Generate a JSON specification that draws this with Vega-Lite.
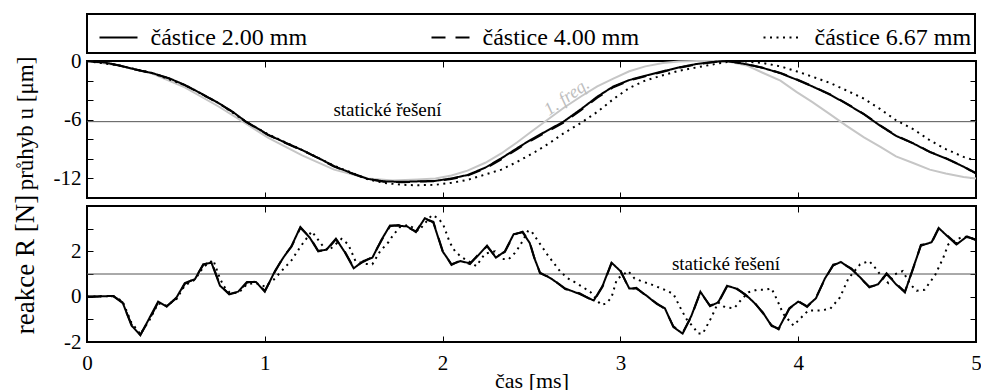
{
  "$schema": "https://vega.github.io/schema/vega-lite/v6.json",
  "padding": {"left": 10, "top": 12, "right": 4, "bottom": 0},
  "background": "white",
  "config": {
    "font": "Liberation Serif",
    "view": {"stroke": "black", "strokeWidth": 2},
    "axis": {
      "domain": false, "grid": false, "tickColor": "black", "tickSize": -6, "tickWidth": 1,
      "labelFont": "Liberation Serif", "labelFontSize": 21, "labelColor": "black", "labelFlush": false,
      "labelPadding": 12, "labelOverlap": false,
      "titleFont": "Liberation Serif", "titleFontWeight": "normal", "titleColor": "black", "titleFontSize": 22
    },
    "legend": {"strokeWidth": 2}
  },
  "datasets": {
    "top": [
      {"t":0,"v":0,"d":2},{"t":0.1,"v":-0.15,"d":2},{"t":0.18,"v":-0.45,"d":2},{"t":0.27,"v":-0.85,"d":2},{"t":0.37,"v":-1.25,"d":2},{"t":0.46,"v":-1.75,"d":2},{"t":0.55,"v":-2.45,"d":2},{"t":0.64,"v":-3.3,"d":2},{"t":0.74,"v":-4.3,"d":2},{"t":0.82,"v":-5.2,"d":2},{"t":0.89,"v":-6.15,"d":2},{"t":0.96,"v":-6.9,"d":2},{"t":1.02,"v":-7.55,"d":2},{"t":1.11,"v":-8.3,"d":2},{"t":1.21,"v":-9.1,"d":2},{"t":1.3,"v":-9.9,"d":2},{"t":1.39,"v":-10.75,"d":2},{"t":1.48,"v":-11.4,"d":2},{"t":1.58,"v":-12.05,"d":2},{"t":1.67,"v":-12.3,"d":2},{"t":1.77,"v":-12.35,"d":2},{"t":1.86,"v":-12.3,"d":2},{"t":1.96,"v":-12.25,"d":2},{"t":2.05,"v":-12.0,"d":2},{"t":2.14,"v":-11.65,"d":2},{"t":2.24,"v":-10.9,"d":2},{"t":2.33,"v":-9.95,"d":2},{"t":2.42,"v":-8.9,"d":2},{"t":2.5,"v":-8.0,"d":2},{"t":2.59,"v":-7.1,"d":2},{"t":2.68,"v":-6.2,"d":2},{"t":2.78,"v":-4.9,"d":2},{"t":2.87,"v":-3.65,"d":2},{"t":2.96,"v":-2.6,"d":2},{"t":3.05,"v":-1.95,"d":2},{"t":3.14,"v":-1.5,"d":2},{"t":3.24,"v":-1.05,"d":2},{"t":3.33,"v":-0.65,"d":2},{"t":3.43,"v":-0.3,"d":2},{"t":3.52,"v":-0.1,"d":2},{"t":3.6,"v":0,"d":2},{"t":3.7,"v":-0.3,"d":2},{"t":3.8,"v":-0.7,"d":2},{"t":3.9,"v":-1.25,"d":2},{"t":3.99,"v":-1.9,"d":2},{"t":4.08,"v":-2.6,"d":2},{"t":4.18,"v":-3.45,"d":2},{"t":4.27,"v":-4.35,"d":2},{"t":4.37,"v":-5.45,"d":2},{"t":4.46,"v":-6.6,"d":2},{"t":4.55,"v":-7.65,"d":2},{"t":4.65,"v":-8.45,"d":2},{"t":4.74,"v":-9.3,"d":2},{"t":4.83,"v":-9.95,"d":2},{"t":4.93,"v":-10.8,"d":2},{"t":5,"v":-11.5,"d":2},
      {"t":0,"v":0,"d":4},{"t":0.1,"v":-0.16,"d":4},{"t":0.18,"v":-0.47,"d":4},{"t":0.27,"v":-0.86,"d":4},{"t":0.37,"v":-1.27,"d":4},{"t":0.46,"v":-1.78,"d":4},{"t":0.55,"v":-2.47,"d":4},{"t":0.64,"v":-3.32,"d":4},{"t":0.74,"v":-4.33,"d":4},{"t":0.82,"v":-5.22,"d":4},{"t":0.89,"v":-6.17,"d":4},{"t":0.96,"v":-6.93,"d":4},{"t":1.02,"v":-7.57,"d":4},{"t":1.11,"v":-8.33,"d":4},{"t":1.21,"v":-9.13,"d":4},{"t":1.3,"v":-9.93,"d":4},{"t":1.39,"v":-10.78,"d":4},{"t":1.48,"v":-11.43,"d":4},{"t":1.58,"v":-12.08,"d":4},{"t":1.67,"v":-12.33,"d":4},{"t":1.77,"v":-12.38,"d":4},{"t":1.86,"v":-12.33,"d":4},{"t":1.96,"v":-12.28,"d":4},{"t":2.05,"v":-12.05,"d":4},{"t":2.14,"v":-11.72,"d":4},{"t":2.24,"v":-10.98,"d":4},{"t":2.33,"v":-10.05,"d":4},{"t":2.42,"v":-9.0,"d":4},{"t":2.5,"v":-8.1,"d":4},{"t":2.59,"v":-7.2,"d":4},{"t":2.68,"v":-6.3,"d":4},{"t":2.78,"v":-5.0,"d":4},{"t":2.87,"v":-3.75,"d":4},{"t":2.96,"v":-2.68,"d":4},{"t":3.05,"v":-2.0,"d":4},{"t":3.14,"v":-1.55,"d":4},{"t":3.24,"v":-1.1,"d":4},{"t":3.33,"v":-0.7,"d":4},{"t":3.43,"v":-0.33,"d":4},{"t":3.52,"v":-0.12,"d":4},{"t":3.6,"v":-0.01,"d":4},{"t":3.7,"v":-0.28,"d":4},{"t":3.8,"v":-0.68,"d":4},{"t":3.9,"v":-1.22,"d":4},{"t":3.99,"v":-1.87,"d":4},{"t":4.08,"v":-2.57,"d":4},{"t":4.18,"v":-3.42,"d":4},{"t":4.27,"v":-4.32,"d":4},{"t":4.37,"v":-5.42,"d":4},{"t":4.46,"v":-6.57,"d":4},{"t":4.55,"v":-7.62,"d":4},{"t":4.65,"v":-8.43,"d":4},{"t":4.74,"v":-9.28,"d":4},{"t":4.83,"v":-9.93,"d":4},{"t":4.93,"v":-10.78,"d":4},{"t":5,"v":-11.45,"d":4},
      {"t":0,"v":0,"d":6.67},{"t":0.18,"v":-0.45,"d":6.67},{"t":0.37,"v":-1.25,"d":6.67},{"t":0.55,"v":-2.45,"d":6.67},{"t":0.74,"v":-4.3,"d":6.67},{"t":0.89,"v":-6.15,"d":6.67},{"t":1.02,"v":-7.5,"d":6.67},{"t":1.21,"v":-9.1,"d":6.67},{"t":1.39,"v":-10.7,"d":6.67},{"t":1.58,"v":-12.1,"d":6.67},{"t":1.67,"v":-12.45,"d":6.67},{"t":1.77,"v":-12.65,"d":6.67},{"t":1.86,"v":-12.7,"d":6.67},{"t":1.96,"v":-12.65,"d":6.67},{"t":2.05,"v":-12.45,"d":6.67},{"t":2.14,"v":-12.15,"d":6.67},{"t":2.24,"v":-11.6,"d":6.67},{"t":2.33,"v":-11.1,"d":6.67},{"t":2.42,"v":-10.3,"d":6.67},{"t":2.52,"v":-9.3,"d":6.67},{"t":2.6,"v":-8.4,"d":6.67},{"t":2.68,"v":-7.4,"d":6.67},{"t":2.78,"v":-6.3,"d":6.67},{"t":2.87,"v":-5.2,"d":6.67},{"t":2.96,"v":-3.9,"d":6.67},{"t":3.05,"v":-2.75,"d":6.67},{"t":3.14,"v":-2.0,"d":6.67},{"t":3.24,"v":-1.45,"d":6.67},{"t":3.33,"v":-1.0,"d":6.67},{"t":3.43,"v":-0.65,"d":6.67},{"t":3.52,"v":-0.35,"d":6.67},{"t":3.6,"v":-0.1,"d":6.67},{"t":3.67,"v":0,"d":6.67},{"t":3.8,"v":-0.2,"d":6.67},{"t":3.9,"v":-0.55,"d":6.67},{"t":3.99,"v":-1.05,"d":6.67},{"t":4.08,"v":-1.6,"d":6.67},{"t":4.18,"v":-2.25,"d":6.67},{"t":4.27,"v":-3.0,"d":6.67},{"t":4.37,"v":-3.85,"d":6.67},{"t":4.46,"v":-4.9,"d":6.67},{"t":4.55,"v":-6.05,"d":6.67},{"t":4.65,"v":-7.0,"d":6.67},{"t":4.74,"v":-8.1,"d":6.67},{"t":4.83,"v":-9.0,"d":6.67},{"t":4.93,"v":-9.8,"d":6.67},{"t":5,"v":-10.2,"d":6.67}
    ],
    "freq": [
      {"t":0,"v":0},{"t":0.18,"v":-0.45},{"t":0.37,"v":-1.3},{"t":0.55,"v":-2.7},{"t":0.74,"v":-4.65},{"t":0.89,"v":-6.35},{"t":1.02,"v":-7.85},{"t":1.21,"v":-9.65},{"t":1.39,"v":-11.1},{"t":1.58,"v":-12.0},{"t":1.72,"v":-12.2},{"t":1.86,"v":-12.1},{"t":1.96,"v":-12.0},{"t":2.05,"v":-11.7},{"t":2.14,"v":-11.2},{"t":2.24,"v":-10.4},{"t":2.33,"v":-9.45},{"t":2.42,"v":-8.3},{"t":2.5,"v":-7.2},{"t":2.59,"v":-6.0},{"t":2.68,"v":-4.8},{"t":2.78,"v":-3.6},{"t":2.87,"v":-2.6},{"t":2.96,"v":-1.8},{"t":3.05,"v":-1.05},{"t":3.14,"v":-0.55},{"t":3.24,"v":-0.2},{"t":3.33,"v":-0.05},{"t":3.43,"v":0},{"t":3.52,"v":0},{"t":3.62,"v":-0.1},{"t":3.71,"v":-0.45},{"t":3.8,"v":-1.2},{"t":3.9,"v":-2.0},{"t":3.99,"v":-3.15},{"t":4.08,"v":-4.2},{"t":4.18,"v":-5.45},{"t":4.27,"v":-6.6},{"t":4.37,"v":-7.8},{"t":4.46,"v":-8.75},{"t":4.55,"v":-9.75},{"t":4.65,"v":-10.45},{"t":4.74,"v":-11.1},{"t":4.83,"v":-11.5},{"t":4.93,"v":-11.85},{"t":5,"v":-12.0}
    ],
    "bot": [
      {"t":0,"v":0,"d":2},{"t":0.148,"v":0.03,"d":2},{"t":0.2,"v":-0.25,"d":2},{"t":0.25,"v":-1.27,"d":2},{"t":0.3,"v":-1.7,"d":2},{"t":0.354,"v":-0.9,"d":2},{"t":0.4,"v":-0.22,"d":2},{"t":0.448,"v":-0.44,"d":2},{"t":0.504,"v":-0.03,"d":2},{"t":0.55,"v":0.6,"d":2},{"t":0.607,"v":0.77,"d":2},{"t":0.654,"v":1.43,"d":2},{"t":0.7,"v":1.5,"d":2},{"t":0.748,"v":0.48,"d":2},{"t":0.8,"v":0.12,"d":2},{"t":0.85,"v":0.22,"d":2},{"t":0.9,"v":0.65,"d":2},{"t":0.95,"v":0.65,"d":2},{"t":1.0,"v":0.22,"d":2},{"t":1.057,"v":1.13,"d":2},{"t":1.104,"v":1.72,"d":2},{"t":1.15,"v":2.23,"d":2},{"t":1.2,"v":3.07,"d":2},{"t":1.254,"v":2.59,"d":2},{"t":1.3,"v":2.0,"d":2},{"t":1.348,"v":2.08,"d":2},{"t":1.4,"v":2.56,"d":2},{"t":1.45,"v":1.96,"d":2},{"t":1.5,"v":1.25,"d":2},{"t":1.554,"v":1.57,"d":2},{"t":1.605,"v":1.72,"d":2},{"t":1.657,"v":2.52,"d":2},{"t":1.704,"v":3.14,"d":2},{"t":1.75,"v":3.13,"d":2},{"t":1.8,"v":3.1,"d":2},{"t":1.85,"v":2.85,"d":2},{"t":1.9,"v":3.46,"d":2},{"t":1.948,"v":3.27,"d":2},{"t":2.0,"v":2.0,"d":2},{"t":2.05,"v":1.43,"d":2},{"t":2.1,"v":1.57,"d":2},{"t":2.154,"v":1.47,"d":2},{"t":2.2,"v":1.82,"d":2},{"t":2.25,"v":2.25,"d":2},{"t":2.3,"v":1.72,"d":2},{"t":2.35,"v":2.0,"d":2},{"t":2.4,"v":2.76,"d":2},{"t":2.45,"v":2.84,"d":2},{"t":2.49,"v":2.37,"d":2},{"t":2.515,"v":1.72,"d":2},{"t":2.548,"v":1.06,"d":2},{"t":2.61,"v":0.8,"d":2},{"t":2.69,"v":0.36,"d":2},{"t":2.77,"v":0.12,"d":2},{"t":2.85,"v":-0.17,"d":2},{"t":2.9,"v":0.48,"d":2},{"t":2.95,"v":1.5,"d":2},{"t":3.0,"v":1.13,"d":2},{"t":3.05,"v":0.36,"d":2},{"t":3.09,"v":0.36,"d":2},{"t":3.148,"v":0.04,"d":2},{"t":3.204,"v":-0.32,"d":2},{"t":3.25,"v":-0.51,"d":2},{"t":3.298,"v":-1.34,"d":2},{"t":3.35,"v":-1.63,"d":2},{"t":3.4,"v":-0.83,"d":2},{"t":3.45,"v":0.22,"d":2},{"t":3.504,"v":-0.42,"d":2},{"t":3.55,"v":-0.25,"d":2},{"t":3.6,"v":0.48,"d":2},{"t":3.65,"v":0.36,"d":2},{"t":3.7,"v":0.12,"d":2},{"t":3.75,"v":-0.25,"d":2},{"t":3.8,"v":-0.68,"d":2},{"t":3.85,"v":-1.29,"d":2},{"t":3.89,"v":-1.41,"d":2},{"t":3.95,"v":-0.51,"d":2},{"t":4.0,"v":-0.22,"d":2},{"t":4.05,"v":-0.42,"d":2},{"t":4.1,"v":-0.07,"d":2},{"t":4.15,"v":0.8,"d":2},{"t":4.197,"v":1.38,"d":2},{"t":4.24,"v":1.53,"d":2},{"t":4.3,"v":1.21,"d":2},{"t":4.35,"v":0.84,"d":2},{"t":4.4,"v":0.41,"d":2},{"t":4.45,"v":0.55,"d":2},{"t":4.497,"v":1.03,"d":2},{"t":4.55,"v":0.55,"d":2},{"t":4.6,"v":0.19,"d":2},{"t":4.647,"v":1.28,"d":2},{"t":4.69,"v":2.25,"d":2},{"t":4.75,"v":2.4,"d":2},{"t":4.79,"v":3.03,"d":2},{"t":4.84,"v":2.66,"d":2},{"t":4.89,"v":2.3,"d":2},{"t":4.95,"v":2.66,"d":2},{"t":5.0,"v":2.49,"d":2},
      {"t":0,"v":0,"d":4},{"t":0.148,"v":0.02,"d":4},{"t":0.2,"v":-0.28,"d":4},{"t":0.25,"v":-1.22,"d":4},{"t":0.3,"v":-1.68,"d":4},{"t":0.354,"v":-0.95,"d":4},{"t":0.4,"v":-0.25,"d":4},{"t":0.448,"v":-0.42,"d":4},{"t":0.504,"v":-0.06,"d":4},{"t":0.55,"v":0.56,"d":4},{"t":0.607,"v":0.8,"d":4},{"t":0.654,"v":1.4,"d":4},{"t":0.7,"v":1.53,"d":4},{"t":0.748,"v":0.52,"d":4},{"t":0.8,"v":0.1,"d":4},{"t":0.85,"v":0.2,"d":4},{"t":0.9,"v":0.62,"d":4},{"t":0.95,"v":0.67,"d":4},{"t":1.0,"v":0.25,"d":4},{"t":1.057,"v":1.1,"d":4},{"t":1.104,"v":1.75,"d":4},{"t":1.15,"v":2.2,"d":4},{"t":1.2,"v":3.04,"d":4},{"t":1.254,"v":2.62,"d":4},{"t":1.3,"v":2.03,"d":4},{"t":1.348,"v":2.05,"d":4},{"t":1.4,"v":2.53,"d":4},{"t":1.45,"v":1.99,"d":4},{"t":1.5,"v":1.28,"d":4},{"t":1.554,"v":1.54,"d":4},{"t":1.605,"v":1.75,"d":4},{"t":1.657,"v":2.49,"d":4},{"t":1.704,"v":3.11,"d":4},{"t":1.75,"v":3.16,"d":4},{"t":1.8,"v":3.07,"d":4},{"t":1.85,"v":2.88,"d":4},{"t":1.9,"v":3.43,"d":4},{"t":1.948,"v":3.3,"d":4},{"t":2.0,"v":2.03,"d":4},{"t":2.05,"v":1.4,"d":4},{"t":2.1,"v":1.6,"d":4},{"t":2.154,"v":1.44,"d":4},{"t":2.2,"v":1.85,"d":4},{"t":2.25,"v":2.22,"d":4},{"t":2.3,"v":1.75,"d":4},{"t":2.35,"v":1.97,"d":4},{"t":2.4,"v":2.73,"d":4},{"t":2.45,"v":2.87,"d":4},{"t":2.49,"v":2.4,"d":4},{"t":2.515,"v":1.75,"d":4},{"t":2.548,"v":1.03,"d":4},{"t":2.61,"v":0.83,"d":4},{"t":2.69,"v":0.33,"d":4},{"t":2.77,"v":0.15,"d":4},{"t":2.85,"v":-0.2,"d":4},{"t":2.9,"v":0.45,"d":4},{"t":2.95,"v":1.47,"d":4},{"t":3.0,"v":1.16,"d":4},{"t":3.05,"v":0.33,"d":4},{"t":3.09,"v":0.39,"d":4},{"t":3.148,"v":0.01,"d":4},{"t":3.204,"v":-0.29,"d":4},{"t":3.25,"v":-0.54,"d":4},{"t":3.298,"v":-1.31,"d":4},{"t":3.35,"v":-1.6,"d":4},{"t":3.4,"v":-0.86,"d":4},{"t":3.45,"v":0.19,"d":4},{"t":3.504,"v":-0.39,"d":4},{"t":3.55,"v":-0.28,"d":4},{"t":3.6,"v":0.45,"d":4},{"t":3.65,"v":0.39,"d":4},{"t":3.7,"v":0.09,"d":4},{"t":3.75,"v":-0.22,"d":4},{"t":3.8,"v":-0.71,"d":4},{"t":3.85,"v":-1.26,"d":4},{"t":3.89,"v":-1.44,"d":4},{"t":3.95,"v":-0.54,"d":4},{"t":4.0,"v":-0.19,"d":4},{"t":4.05,"v":-0.45,"d":4},{"t":4.1,"v":-0.04,"d":4},{"t":4.15,"v":0.77,"d":4},{"t":4.197,"v":1.41,"d":4},{"t":4.24,"v":1.5,"d":4},{"t":4.3,"v":1.24,"d":4},{"t":4.35,"v":0.81,"d":4},{"t":4.4,"v":0.44,"d":4},{"t":4.45,"v":0.52,"d":4},{"t":4.497,"v":1.0,"d":4},{"t":4.55,"v":0.58,"d":4},{"t":4.6,"v":0.22,"d":4},{"t":4.647,"v":1.25,"d":4},{"t":4.69,"v":2.28,"d":4},{"t":4.75,"v":2.37,"d":4},{"t":4.79,"v":3.0,"d":4},{"t":4.84,"v":2.69,"d":4},{"t":4.89,"v":2.33,"d":4},{"t":4.95,"v":2.63,"d":4},{"t":5.0,"v":2.52,"d":4},
      {"t":0,"v":0,"d":6.67},{"t":0.148,"v":0.03,"d":6.67},{"t":0.2,"v":-0.2,"d":6.67},{"t":0.25,"v":-1.15,"d":6.67},{"t":0.3,"v":-1.65,"d":6.67},{"t":0.354,"v":-1.0,"d":6.67},{"t":0.4,"v":-0.3,"d":6.67},{"t":0.448,"v":-0.4,"d":6.67},{"t":0.504,"v":-0.1,"d":6.67},{"t":0.55,"v":0.5,"d":6.67},{"t":0.607,"v":0.75,"d":6.67},{"t":0.654,"v":1.3,"d":6.67},{"t":0.71,"v":1.62,"d":6.67},{"t":0.748,"v":0.8,"d":6.67},{"t":0.77,"v":0.45,"d":6.67},{"t":0.8,"v":0.2,"d":6.67},{"t":0.85,"v":0.15,"d":6.67},{"t":0.9,"v":0.55,"d":6.67},{"t":0.95,"v":0.6,"d":6.67},{"t":1.0,"v":0.45,"d":6.67},{"t":1.05,"v":0.75,"d":6.67},{"t":1.094,"v":1.13,"d":6.67},{"t":1.15,"v":1.6,"d":6.67},{"t":1.2,"v":2.2,"d":6.67},{"t":1.264,"v":2.88,"d":6.67},{"t":1.33,"v":2.2,"d":6.67},{"t":1.358,"v":2.03,"d":6.67},{"t":1.432,"v":2.55,"d":6.67},{"t":1.47,"v":2.3,"d":6.67},{"t":1.51,"v":1.57,"d":6.67},{"t":1.56,"v":1.45,"d":6.67},{"t":1.605,"v":1.43,"d":6.67},{"t":1.648,"v":2.0,"d":6.67},{"t":1.695,"v":2.4,"d":6.67},{"t":1.723,"v":2.73,"d":6.67},{"t":1.76,"v":3.07,"d":6.67},{"t":1.807,"v":3.17,"d":6.67},{"t":1.864,"v":2.9,"d":6.67},{"t":1.94,"v":3.6,"d":6.67},{"t":1.976,"v":3.46,"d":6.67},{"t":2.004,"v":3.17,"d":6.67},{"t":2.04,"v":2.4,"d":6.67},{"t":2.07,"v":2.0,"d":6.67},{"t":2.104,"v":1.76,"d":6.67},{"t":2.145,"v":1.57,"d":6.67},{"t":2.19,"v":1.35,"d":6.67},{"t":2.238,"v":1.9,"d":6.67},{"t":2.295,"v":2.0,"d":6.67},{"t":2.332,"v":1.67,"d":6.67},{"t":2.37,"v":1.64,"d":6.67},{"t":2.407,"v":1.93,"d":6.67},{"t":2.435,"v":2.25,"d":6.67},{"t":2.482,"v":2.92,"d":6.67},{"t":2.5,"v":2.88,"d":6.67},{"t":2.538,"v":2.44,"d":6.67},{"t":2.595,"v":1.79,"d":6.67},{"t":2.66,"v":1.13,"d":6.67},{"t":2.698,"v":0.84,"d":6.67},{"t":2.745,"v":0.63,"d":6.67},{"t":2.83,"v":0.22,"d":6.67},{"t":2.89,"v":-0.36,"d":6.67},{"t":2.92,"v":-0.31,"d":6.67},{"t":2.95,"v":-0.03,"d":6.67},{"t":2.98,"v":0.77,"d":6.67},{"t":3.044,"v":1.13,"d":6.67},{"t":3.08,"v":0.8,"d":6.67},{"t":3.13,"v":0.65,"d":6.67},{"t":3.17,"v":0.55,"d":6.67},{"t":3.25,"v":0.3,"d":6.67},{"t":3.298,"v":0.12,"d":6.67},{"t":3.345,"v":-0.61,"d":6.67},{"t":3.373,"v":-1.0,"d":6.67},{"t":3.41,"v":-1.34,"d":6.67},{"t":3.438,"v":-1.63,"d":6.67},{"t":3.463,"v":-1.63,"d":6.67},{"t":3.513,"v":-0.9,"d":6.67},{"t":3.55,"v":-0.25,"d":6.67},{"t":3.588,"v":-0.47,"d":6.67},{"t":3.64,"v":-0.51,"d":6.67},{"t":3.676,"v":-0.17,"d":6.67},{"t":3.72,"v":0.19,"d":6.67},{"t":3.766,"v":0.3,"d":6.67},{"t":3.81,"v":0.3,"d":6.67},{"t":3.85,"v":0.36,"d":6.67},{"t":3.879,"v":-0.1,"d":6.67},{"t":3.916,"v":-0.76,"d":6.67},{"t":3.973,"v":-1.27,"d":6.67},{"t":4.02,"v":-0.9,"d":6.67},{"t":4.057,"v":-0.61,"d":6.67},{"t":4.123,"v":-0.61,"d":6.67},{"t":4.18,"v":-0.54,"d":6.67},{"t":4.235,"v":-0.03,"d":6.67},{"t":4.282,"v":0.8,"d":6.67},{"t":4.348,"v":1.43,"d":6.67},{"t":4.4,"v":1.57,"d":6.67},{"t":4.432,"v":1.28,"d":6.67},{"t":4.46,"v":0.99,"d":6.67},{"t":4.507,"v":0.6,"d":6.67},{"t":4.545,"v":0.99,"d":6.67},{"t":4.588,"v":1.13,"d":6.67},{"t":4.63,"v":0.55,"d":6.67},{"t":4.666,"v":0.26,"d":6.67},{"t":4.71,"v":0.3,"d":6.67},{"t":4.77,"v":0.95,"d":6.67},{"t":4.816,"v":1.72,"d":6.67},{"t":4.844,"v":2.3,"d":6.67},{"t":4.882,"v":2.49,"d":6.67},{"t":4.93,"v":2.66,"d":6.67},{"t":4.994,"v":2.55,"d":6.67}
    ]
  },
  "resolve": {"legend": {"strokeDash": "independent"}},
  "spacing": -7,
  "vconcat": [
    {
      "width": 889, "height": 137,
      "resolve": {"axis": {"x": "independent", "y": "independent"}},
      "layer": [
        {
          "data": {"values": [{"v": -6.2}]},
          "mark": {"type": "rule", "color": "#555555", "strokeWidth": 1},
          "encoding": {"y": {"field": "v", "type": "quantitative", "axis": null, "scale": {"domain": [-14, 0], "nice": false}}}
        },
        {
          "data": {"name": "freq"},
          "mark": {"type": "line", "color": "#c6c6c6", "strokeWidth": 2},
          "encoding": {
            "x": {"field": "t", "type": "quantitative", "scale": {"domain": [0, 5], "nice": false},
                  "axis": {"orient": "top", "labels": false, "title": null, "values": [0, 1, 2, 3, 4, 5]}},
            "y": {"field": "v", "type": "quantitative", "scale": {"domain": [-14, 0], "nice": false},
                  "axis": {"orient": "right", "labels": false, "title": null, "values": [-12, -10, -8, -6, -4, -2, 0]}}
          }
        },
        {
          "data": {"name": "top"},
          "mark": {"type": "line", "color": "black", "strokeWidth": 2},
          "encoding": {
            "x": {"field": "t", "type": "quantitative", "scale": {"domain": [0, 5], "nice": false},
                  "axis": {"orient": "bottom", "labels": false, "title": null, "values": [0, 1, 2, 3, 4, 5]}},
            "y": {"field": "v", "type": "quantitative", "scale": {"domain": [-14, 0], "nice": false},
                  "axis": {"orient": "left", "title": "průhyb u [μm]", "values": [-12, -10, -8, -6, -4, -2, 0],
                           "labelFont": "Liberation Serif",
                           "labelExpr": "datum.value % 6 == 0 ? '' + datum.value : ''",
                           "titleX": -62, "titleY": 62, "titleBaseline": "middle", "titleFontSize": 23}},
            "strokeDash": {"field": "d", "type": "nominal",
              "scale": {"domain": [2, 4, 6.67], "range": [[1, 0], [14, 10], [2, 4.5]]},
              "legend": {"orient": "top", "direction": "horizontal", "title": null, "offset": 4,
                "symbolType": "stroke", "symbolSize": 1444, "symbolStrokeWidth": 2, "symbolStrokeColor": "black",
                "symbolOffset": 8,
                "labelFont": "Liberation Serif", "labelFontSize": 24, "labelColor": "black", "labelOffset": 12,
                "columnPadding": 115, "padding": 3.5, "strokeColor": "black",
                "labelExpr": "'částice ' + format(datum.value, '.2f') + ' mm'"}}
          }
        },
        {
          "data": {"values": [{"t": 1.69, "v": -5.65, "txt": "statické řešení"}]},
          "mark": {"type": "text", "font": "Liberation Serif", "fontSize": 19, "color": "black", "align": "center", "baseline": "alphabetic"},
          "encoding": {
            "x": {"field": "t", "type": "quantitative", "axis": null},
            "y": {"field": "v", "type": "quantitative", "axis": null},
            "text": {"field": "txt"}
          }
        },
        {
          "data": {"values": [{"t": 2.7, "v": -3.7, "txt": "1. freq."}]},
          "mark": {"type": "text", "font": "Liberation Serif", "fontSize": 18, "fontStyle": "italic", "color": "#bdbdbd", "align": "center", "baseline": "middle", "angle": -35},
          "encoding": {
            "x": {"field": "t", "type": "quantitative", "axis": null},
            "y": {"field": "v", "type": "quantitative", "axis": null},
            "text": {"field": "txt"}
          }
        }
      ]
    },
    {
      "width": 889, "height": 136,
      "resolve": {"axis": {"x": "independent", "y": "independent"}},
      "layer": [
        {
          "data": {"values": [{"v": 1.0}]},
          "mark": {"type": "rule", "color": "#555555", "strokeWidth": 1},
          "encoding": {"y": {"field": "v", "type": "quantitative", "axis": null, "scale": {"domain": [-2, 4], "nice": false}}}
        },
        {
          "data": {"name": "bot"},
          "mark": {"type": "line", "color": "black", "strokeWidth": 2},
          "encoding": {
            "x": {"field": "t", "type": "quantitative", "scale": {"domain": [0, 5], "nice": false},
                  "axis": {"orient": "bottom", "title": "čas [ms]", "values": [0, 1, 2, 3, 4, 5], "titlePadding": -3,
                           "labelFont": "Liberation Serif", "labelPadding": 16}},
            "y": {"field": "v", "type": "quantitative", "scale": {"domain": [-2, 4], "nice": false},
                  "axis": {"orient": "left", "title": "reakce R [N]", "values": [-2, -1, 0, 1, 2, 3],
                           "labelFont": "Liberation Serif",
                           "labelExpr": "datum.value % 2 == 0 ? '' + datum.value : ''",
                           "titleX": -62, "titleY": 58, "titleBaseline": "middle", "titleFontSize": 27}},
            "strokeDash": {"field": "d", "type": "nominal",
              "scale": {"domain": [2, 4, 6.67], "range": [[1, 0], [14, 10], [2, 4.5]]},
              "legend": null}
          }
        },
        {
          "data": {"values": [{"t": 3.594, "v": 1.16, "txt": "statické řešení"}]},
          "mark": {"type": "text", "font": "Liberation Serif", "fontSize": 19, "color": "black", "align": "center", "baseline": "alphabetic"},
          "encoding": {
            "x": {"field": "t", "type": "quantitative", "scale": {"domain": [0, 5], "nice": false},
                  "axis": {"orient": "top", "labels": false, "title": null, "values": [0, 1, 2, 3, 4, 5]}},
            "y": {"field": "v", "type": "quantitative", "scale": {"domain": [-2, 4], "nice": false},
                  "axis": {"orient": "right", "labels": false, "title": null, "values": [-2, -1, 0, 1, 2, 3]}},
            "text": {"field": "txt"}
          }
        }
      ]
    }
  ]
}
